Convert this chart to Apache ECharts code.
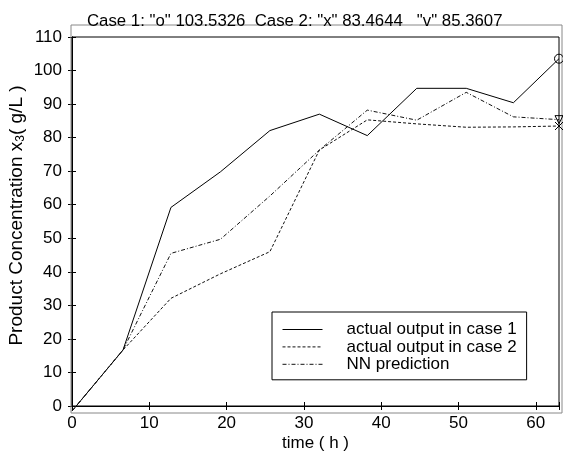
<!DOCTYPE html>
<html>
<head>
<meta charset="utf-8">
<script src="https://cdn.jsdelivr.net/npm/echarts@6/dist/echarts.min.js"></script>
<style>
html,body{margin:0;padding:0;background:#fff;}
#chart{width:563px;height:461px;}
</style>
</head>
<body>
<div id="chart"></div>
<script>
var timeH = [0, 6.6, 12.8, 19.2, 25.6, 32.0, 38.2, 44.6, 51.0, 57.1, 63.0];
var case1 = [-1.5, 16.7, 59.2, 69.8, 82.1, 87.0, 80.6, 94.7, 94.7, 90.4, 103.5326];
var case2 = [-1.5, 16.7, 32.1, 39.4, 46.0, 76.3, 85.3, 84.1, 83.1, 83.2, 83.4644];
var nnPred = [-1.5, 16.7, 45.5, 49.7, 62.6, 76.3, 88.2, 85.2, 93.5, 86.2, 85.3607];
var seriesNames = ['actual output in case 1', 'actual output in case 2', 'NN prediction'];
var titleText = 'Case 1: "o" 103.5326  Case 2: "x" 83.4644   "v" 85.3607';

var FONT = '"Liberation Sans", Arial, sans-serif';
var X_MARK = 'path://M0,0L10,10M10,0L0,10';

function pairs(ys, endSymbol, endSize, endRotate) {
  return ys.map(function (v, i) {
    var item = { value: [timeH[i], v] };
    if (i === ys.length - 1) {
      item.symbol = endSymbol;
      item.symbolSize = endSize;
      item.symbolRotate = endRotate || 0;
    }
    return item;
  });
}

var chart = echarts.init(document.getElementById('chart'), null, { renderer: 'canvas' });
var option = {
  animation: false,
  backgroundColor: '#ffffff',
  title: {
    text: titleText,
    left: 82,
    top: 8,
    textStyle: { fontFamily: FONT, fontSize: 16.8, fontWeight: 'normal', color: '#000' }
  },
  legend: {
    data: seriesNames,
    orient: 'vertical',
    left: 272,
    top: 312,
    itemWidth: 40,
    itemHeight: 14,
    itemGap: 0.4,
    padding: [9, 10, 7, 10],
    backgroundColor: '#fff',
    borderColor: '#000',
    borderWidth: 1,
    borderRadius: 0,
    itemStyle: { opacity: 0 },
    lineStyle: { width: 1 },
    textStyle: { fontFamily: FONT, fontSize: 17, lineHeight: 16, color: '#000', padding: [0, 0, 0, 19] }
  },
  grid: [
    { left: 72, right: 4, top: 37, bottom: 55, show: true, borderColor: '#000', borderWidth: 1, backgroundColor: 'transparent', z: 3, outerBoundsMode: 'none', containLabel: false },
    { left: 71, right: 1, top: 25, bottom: 48, show: true, borderColor: '#888', borderWidth: 1, backgroundColor: 'transparent', z: 2, outerBoundsMode: 'none', containLabel: false }
  ],
  xAxis: [
    {
      gridIndex: 0, type: 'value', position: 'bottom', min: 0, max: 63, interval: 10,
      axisLine: { show: true, lineStyle: { color: '#000', width: 1 } },
      axisTick: { show: true, inside: true, length: 4, lineStyle: { color: '#000' } },
      axisLabel: { show: true, margin: 9, fontFamily: FONT, fontSize: 17, color: '#000',
        formatter: function (v) { return (v % 10 === 0) ? String(v) : ''; } },
      splitLine: { show: false },
      name: 'time ( h )', nameLocation: 'middle', nameGap: 29, nameMoveOverlap: false,
      nameTextStyle: { fontFamily: FONT, fontSize: 17, color: '#000' }
    },
    {
      gridIndex: 0, type: 'value', position: 'top', offset: 12, min: 0, max: 63, interval: 10,
      axisLine: { show: true, lineStyle: { color: '#000', width: 1 } },
      axisTick: { show: true, inside: true, length: 4, lineStyle: { color: '#000' } },
      axisLabel: { show: false },
      splitLine: { show: false }
    },
    { gridIndex: 1, type: 'value', show: false, min: 0, max: 1 }
  ],
  yAxis: [
    {
      gridIndex: 0, type: 'value', position: 'left', min: 0, max: 110, interval: 10,
      axisLine: { show: true, lineStyle: { color: '#000', width: 1 } },
      axisTick: { show: true, inside: true, length: 4, lineStyle: { color: '#000' } },
      axisLabel: { show: true, margin: 10, fontFamily: FONT, fontSize: 17, color: '#000' },
      splitLine: { show: false },
      name: 'Product Concentration x{sub|3}( g/L )',
      nameLocation: 'middle', nameGap: 45, nameRotate: 90, nameMoveOverlap: false,
      nameTextStyle: {
        fontFamily: FONT, fontSize: 19, color: '#000', padding: [0, 0, 0, 12],
        rich: { sub: { fontFamily: FONT, fontSize: 12, color: '#000', padding: [9, 0, 0, 0] } }
      }
    },
    {
      gridIndex: 0, type: 'value', position: 'right', min: 0, max: 110, interval: 10,
      axisLine: { show: true, lineStyle: { color: '#000', width: 1 } },
      axisTick: { show: true, inside: true, length: 4, lineStyle: { color: '#000' } },
      axisLabel: { show: false },
      splitLine: { show: false }
    },
    { gridIndex: 1, type: 'value', show: false, min: 0, max: 1 }
  ],
  series: [
    {
      name: seriesNames[0], type: 'line', xAxisIndex: 0, yAxisIndex: 0,
      data: pairs(case1, 'circle', 9),
      symbol: 'none', showSymbol: true, clip: false,
      lineStyle: { color: '#000', width: 1, type: 'solid' },
      itemStyle: { color: 'transparent', borderColor: '#000', borderWidth: 1 },
      z: 5
    },
    {
      name: seriesNames[1], type: 'line', xAxisIndex: 0, yAxisIndex: 0,
      data: pairs(case2, X_MARK, 8),
      symbol: 'none', showSymbol: true, clip: false,
      lineStyle: { color: '#111', width: 1, type: [3, 2] },
      itemStyle: { color: 'transparent', borderColor: '#000', borderWidth: 1 },
      z: 5
    },
    {
      name: seriesNames[2], type: 'line', xAxisIndex: 0, yAxisIndex: 0,
      data: pairs(nnPred, 'triangle', 8, 180),
      symbol: 'none', showSymbol: true, clip: false,
      lineStyle: { color: '#111', width: 1, type: [4, 2, 1, 2] },
      itemStyle: { color: 'transparent', borderColor: '#000', borderWidth: 1 },
      z: 5
    }
  ]
};
chart.setOption(option);
</script>
</body>
</html>
